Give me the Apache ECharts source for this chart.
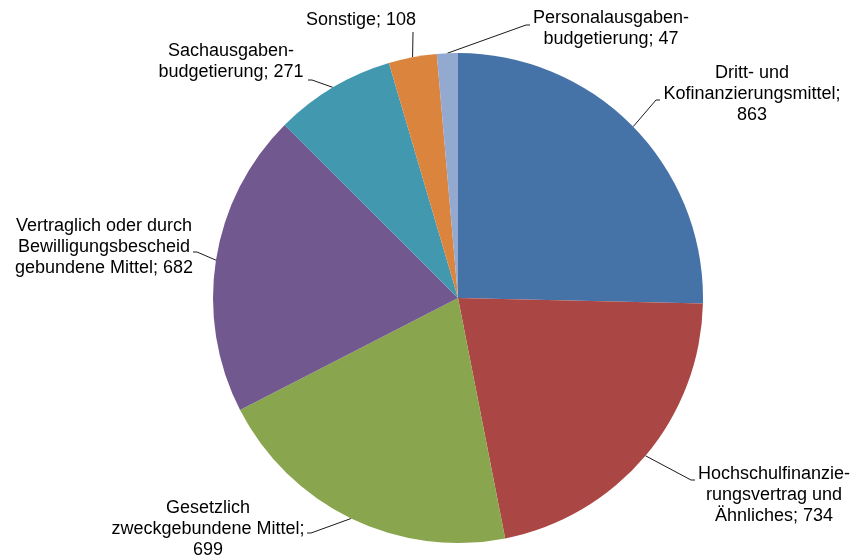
<!DOCTYPE html>
<html>
<head>
<meta charset="utf-8">
<script src="https://cdn.jsdelivr.net/npm/echarts@6/dist/echarts.min.js"></script>
<style>
  html, body { margin: 0; padding: 0; background: #fff; }
  #chart { width: 853px; height: 560px; }
</style>
</head>
<body>
<div id="chart"></div>
<script>
// Daten (Mio. Euro)
var categories = [
    'Dritt- und Kofinanzierungsmittel',
    'Hochschulfinanzierungsvertrag und Ähnliches',
    'Gesetzlich zweckgebundene Mittel',
    'Vertraglich oder durch Bewilligungsbescheid gebundene Mittel',
    'Sachausgabenbudgetierung',
    'Sonstige',
    'Personalausgabenbudgetierung'
];
var values = [863, 734, 699, 682, 271, 108, 47];
// Beschriftung mit Zeilenumbrüchen wie im Original
var labelTexts = [
    'Dritt- und\nKofinanzierungsmittel;\n',
    'Hochschulfinanzie-\nrungsvertrag und\nÄhnliches; ',
    'Gesetzlich\nzweckgebundene Mittel;\n',
    'Vertraglich oder durch\nBewilligungsbescheid\ngebundene Mittel; ',
    'Sachausgaben-\nbudgetierung; ',
    'Sonstige; ',
    'Personalausgaben-\nbudgetierung; '
];
var colors = ['#4572A7', '#AA4643', '#89A54E', '#71588F', '#4198AF', '#DB843D', '#93A9CF'];

// Position der Beschriftungen (Mitte) und Endpunkt der Führungslinie
var labelAt = [[752, 94], [774, 495], [208, 529], [104, 247], [231, 62], [361, 20], [611, 29]];
var lineEnd = [[660, 100], [695, 480], [307, 533], [193, 252], [308, 80], [413, 32], [530, 25]];

var myChart = echarts.init(document.getElementById('chart'));

var data = categories.map(function (name, i) {
    return { name: name, value: values[i], itemStyle: { color: colors[i] } };
});

var option = {
    animation: false,
    series: [{
        type: 'pie',
        center: [458, 298],
        radius: 245,
        startAngle: 90,
        clockwise: true,
        avoidLabelOverlap: false,
        data: data,
        itemStyle: { borderWidth: 0 },
        label: {
            show: true,
            position: 'outside',
            formatter: function (p) {
                return labelTexts[p.dataIndex] + p.value;
            },
            fontFamily: 'Liberation Sans, Arial, sans-serif',
            fontSize: 18,
            lineHeight: 21,
            color: '#000'
        },
        labelLine: {
            show: true,
            length: 10,
            length2: 10,
            smooth: false,
            lineStyle: { color: '#1a1a1a', width: 1 }
        },
        emphasis: { disabled: true },
        labelLayout: function (params) {
            var i = params.dataIndex;
            var a = params.labelLinePoints ? params.labelLinePoints[0] : lineEnd[i];
            var e = lineEnd[i];
            var dx = a[0] - e[0];
            var elbow = Math.abs(dx) < 3 ? [e[0], e[1]] : [e[0] + (dx > 0 ? 4 : -4), e[1]];
            return {
                x: labelAt[i][0],
                y: labelAt[i][1],
                align: 'center',
                verticalAlign: 'middle',
                labelLinePoints: [a, elbow, e]
            };
        }
    }]
};
myChart.setOption(option);
</script>
</body>
</html>
